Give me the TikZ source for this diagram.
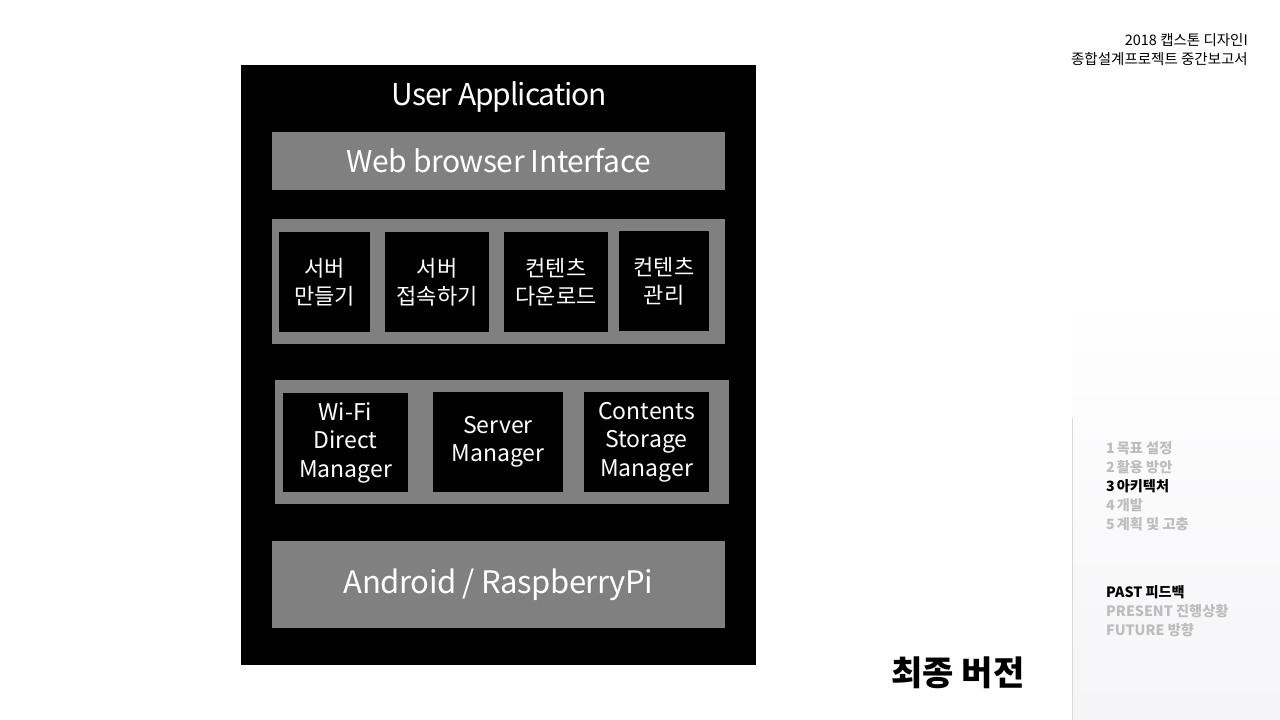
\documentclass[tikz,border=0pt]{standalone}
\usepackage{fontspec}
\setmainfont{Noto Sans CJK KR}
\newfontfamily\tightfont{Noto Sans CJK KR}[LetterSpace=-3.5]
\newfontfamily\semitight{Noto Sans CJK KR}[LetterSpace=-1.5]
\definecolor{panelgray}{HTML}{808080}
\definecolor{menugray}{HTML}{BDBDBD}
\tikzset{
  outerbox/.style={fill=black, draw=none, inner sep=0pt},
  graybar/.style={fill=panelgray, draw=none, inner sep=0pt, text=white},
  blackbox/.style={fill=black, draw=none, inner sep=0pt, text=white, align=center},
  kortext/.style={font=\fontsize{22}{28}\selectfont},
  engtext/.style={font=\fontsize{23}{28.5}\selectfont},
  menuitem/.style={anchor=west, inner sep=0pt, font=\fontsize{14.2}{14.2}\selectfont\bfseries, text=menugray},
  menuon/.style={menuitem, text=black},
  hdrtext/.style={anchor=east, inner sep=0pt, font=\fontsize{14.5}{14.5}\selectfont},
}
\begin{document}
\begin{tikzpicture}[x=1pt,y=-1pt]
\useasboundingbox (0,0) rectangle (1280,720);
\fill[white] (0,0) rectangle (1280,720);
% side panel
\shade[top color=white, bottom color=blue!30!black!4] (1072,290) rectangle (1280,720);
\draw[black!15, line width=1pt] (1072,418) -- (1072,720);

% header
\node[hdrtext] (hdr1) at (1248,40) {2018 캡스톤 디자인I};
\node[hdrtext] (hdr2) at (1248,59) {종합설계프로젝트 중간보고서};

% outer
\node[outerbox, minimum width=515pt, minimum height=600pt] (outer) at (498.5,365) {};
\node[text=white, inner sep=0pt, font=\fontsize{30}{30}\selectfont\tightfont] (title) at (499.5,97) {User Application};

\node[graybar, minimum width=453pt, minimum height=58pt, font=\fontsize{30}{30}\selectfont\semitight] (web) at (498.5,161) {Web browser Interface};

\node[graybar, minimum width=453pt, minimum height=125pt] (korpanel) at (498.5,281.5) {};
\node[blackbox, kortext, minimum width=91pt, minimum height=100pt] (k1) at (324.5,282) {서버\\만들기};
\node[blackbox, kortext, minimum width=104pt, minimum height=100pt] (k2) at (437,282) {서버\\접속하기};
\node[blackbox, kortext, minimum width=104pt, minimum height=100pt] (k3) at (556,282) {컨텐츠\\다운로드};
\node[blackbox, kortext, minimum width=90pt, minimum height=100pt] (k4) at (664,281) {컨텐츠\\관리};

\node[graybar, minimum width=454pt, minimum height=124pt] (mgrpanel) at (502,442) {};
\node[blackbox, engtext, minimum width=125pt, minimum height=99pt] (m1) at (345.5,442.5) {Wi-Fi\\Direct\\Manager};
\node[blackbox, engtext, minimum width=130pt, minimum height=100pt] (m2) at (498,442) {Server\\Manager};
\node[blackbox, engtext, minimum width=125pt, minimum height=100pt] (m3) at (646.5,442) {Contents\\Storage\\Manager};

\node[graybar, minimum width=453pt, minimum height=87pt, font=\fontsize{31}{31}\selectfont\semitight] (android) at (498.5,584.5) {Android / RaspberryPi};

% caption
\node[inner sep=0pt, font=\fontsize{34}{34}\selectfont\bfseries] (caption) at (958,673) {최종 버전};

% menu
\node[menuitem] (n1) at (1106,448) {1\hspace{2pt}목표 설정};
\node[menuitem] (n2) at (1106,467) {2\hspace{2pt}활용 방안};
\node[menuon] (n3) at (1106,486) {3\hspace{2pt}아키텍처};
\node[menuitem] (n4) at (1106,505) {4\hspace{2pt}개발};
\node[menuitem] (n5) at (1106,524) {5\hspace{2pt}계획 및 고충};
\node[menuon] (p1) at (1106,592) {PAST 피드백};
\node[menuitem] (p2) at (1106,611) {PRESENT 진행상황};
\node[menuitem] (p3) at (1106,630) {FUTURE 방향};
\end{tikzpicture}
\end{document}
